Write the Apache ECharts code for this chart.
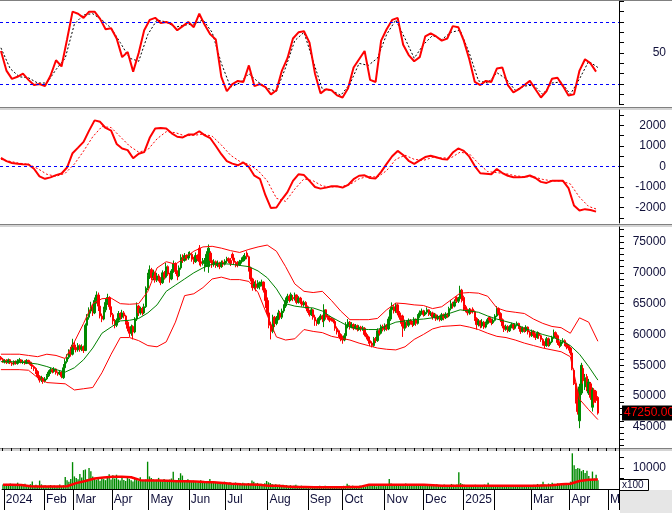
<!DOCTYPE html>
<html><head><meta charset="utf-8">
<script src="https://cdn.jsdelivr.net/npm/echarts@6/dist/echarts.min.js"></script>
<style>html,body{margin:0;padding:0;background:#fff}#c{width:672px;height:513px}</style>
</head><body><div id="c"></div>
<script>
// ---- x axis: trading days per month and their labels ----
const monthLabels = ['', '2024','Feb','Mar','Apr','May','Jun','Jul','Aug','Sep','Oct','Nov','Dec','2025','','Mar','Apr','M'];
const monthDays   = [1,22,16,21,20,22,20,23,22,19,23,21,22,17,20,21,21,6];

// ---- daily prices (thousand VND) ----
const open = [
56.3,56.0,55.5,55.8,55.4,55.9,55.4,55.2,55.6,55.3, 55.6,55.9,55.5,55.7,55.3,55.8,55.5,55.1,54.8,54.5,
54.0,53.2,52.6,52.9,52.4,52.8,53.3,53.9,54.3,54.0, 54.4,53.8,53.6,53.9,53.0,54.6,55.6,56.3,57.2,56.8,
58.3,57.9,57.5,58.2,57.6,58.0,57.4,61.5,62.8,63.8, 64.5,63.5,65.5,66.4,64.6,63.0,62.5,64.0,65.2,66.0,
64.5,63.2,62.2,61.5,62.3,63.4,62.8,63.5,63.0,62.0, 61.0,60.2,61.3,60.4,62.5,64.6,63.5,64.2,63.5,64.5,
67.5,69.5,70.5,69.2,70.0,68.8,69.5,69.0,68.4,70.0, 69.3,71.0,69.8,69.0,70.3,71.5,70.2,69.5,70.8,72.5,
72.0,72.8,72.4,72.9,73.0,72.2,71.8,72.8,74.0,71.8, 71.5,71.0,71.3,71.0,73.2,72.0,71.3,71.8,71.2,71.6,
71.0,71.7,71.4,71.9,72.3,72.0,73.0,72.4,71.7,71.6, 71.3,71.8,72.0,72.2,73.2,72.6,70.8,69.0,67.6,68.2,
67.6,67.8,68.0,68.5,67.2,65.5,63.5,61.5,60.5,62.8, 61.8,62.6,63.5,62.8,63.8,64.6,65.5,66.2,65.6,66.0,
65.8,66.4,65.2,65.9,65.3,64.8,65.2,64.5,63.8,63.2, 64.0,62.8,62.2,61.8,62.6,63.0,62.2,64.0,63.0,62.7,
62.6,62.4,62.1,61.0,60.6,60.0,59.6,59.1,59.8,61.4, 62.0,61.2,61.6,61.0,61.4,60.8,61.2,60.9,61.0,60.0,
59.6,59.0,58.6,58.2,59.3,59.0,60.6,60.2,61.3,60.8, 61.5,60.9,62.5,64.0,64.5,63.8,64.8,63.5,62.8,63.0,
61.0,62.0,61.5,62.3,62.0,61.6,62.5,61.8,63.0,63.5, 63.8,63.2,63.6,64.0,63.3,63.5,62.8,63.2,62.5,62.9,
62.4,63.2,62.7,63.3,63.0,64.2,65.0,64.6,66.0,65.4, 65.8,67.2,66.0,64.5,64.0,63.5,64.0,64.1,63.7,62.6,
61.6,62.2,61.4,62.0,61.2,61.8,62.8,62.3,61.9,62.3, 63.0,64.2,63.4,62.4,61.4,60.8,61.3,60.6,61.2,61.6,
61.0,61.5,61.8,61.2,60.5,61.0,60.6,61.2,60.4,59.8, 60.5,60.0,59.5,60.2,59.8,59.2,58.6,58.2,59.3,58.4,
58.8,59.5,60.3,59.8,58.7,58.2,58.8,59.0,58.5,58.2, 57.8,57.0,54.2,52.0,49.5,46.0,50.5,54.5,51.5,53.2,
50.5,52.0,48.2,51.0,50.8,49.8];
const close = [
56.0,55.6,55.8,55.5,55.9,55.4,55.2,55.6,55.3,55.7, 55.9,55.5,55.6,55.4,55.8,55.5,55.1,54.8,54.5,54.0,
53.2,52.6,52.9,52.4,52.8,53.3,53.9,54.3,54.0,54.4, 53.8,53.6,53.9,53.2,54.6,55.6,56.3,57.2,56.8,58.3,
57.9,57.5,58.2,57.6,58.0,57.4,61.5,62.8,63.8,64.5, 63.5,65.5,66.4,64.6,63.0,62.5,64.0,65.2,66.0,64.5,
63.2,62.2,61.5,62.3,63.4,62.8,63.5,63.0,62.0,61.0, 60.2,61.3,60.4,62.5,64.6,63.5,64.2,63.5,64.5,67.5,
69.5,70.5,69.2,70.0,68.8,69.5,69.0,68.4,70.0,69.3, 71.0,69.8,69.0,70.3,71.5,70.2,69.5,70.8,72.5,72.0,
72.8,72.4,72.9,73.0,72.2,71.8,72.8,72.3,71.8,71.5, 72.0,71.3,73.0,74.0,72.0,71.3,71.8,71.2,71.6,71.0,
71.7,71.4,71.9,72.3,72.0,71.5,72.4,71.7,71.2,71.3, 71.8,72.0,72.6,72.7,72.6,70.8,69.0,67.6,68.2,67.6,
68.4,68.0,68.5,67.2,65.5,63.5,61.5,60.5,62.8,61.8, 62.6,63.5,62.8,63.8,64.6,65.5,66.2,65.6,66.5,65.8,
66.4,65.2,65.9,65.3,64.8,65.2,64.5,63.8,63.2,64.0, 62.8,62.2,61.8,62.6,63.0,62.5,64.0,62.8,62.7,62.3,
62.4,62.1,61.0,60.4,60.0,59.3,59.1,59.8,61.6,62.0, 61.2,61.6,61.0,61.4,60.8,61.2,60.9,61.1,60.0,59.6,
59.0,58.6,58.2,59.3,59.0,60.6,60.2,61.3,60.8,61.5, 60.9,62.5,64.0,64.5,63.8,64.8,63.5,62.8,61.8,61.0,
62.0,61.5,62.3,62.0,61.6,62.5,61.8,63.0,63.5,63.8, 63.2,63.6,64.0,63.3,63.5,62.8,63.2,62.5,62.9,62.4,
63.2,62.7,63.3,63.0,64.2,65.0,64.6,65.3,65.4,65.8, 67.2,65.5,64.5,64.0,63.5,64.0,63.6,63.7,62.6,61.6,
62.2,61.4,62.0,61.2,61.8,62.4,62.3,61.9,62.3,63.0, 64.2,63.4,62.4,61.4,60.8,61.3,60.6,61.2,61.6,61.0,
61.5,61.8,61.2,60.5,61.0,60.6,61.2,60.4,59.8,60.5, 60.0,59.5,60.2,59.8,59.2,58.6,58.2,59.3,58.4,58.8,
59.5,60.3,59.8,58.7,58.2,58.8,59.0,58.5,58.0,57.8, 57.0,54.5,52.0,49.2,47.5,51.5,55.0,52.5,53.0,51.2,
52.3,49.8,51.0,49.0,49.3,47.25];
const low = [
55.8,55.4,55.3,55.2,55.3,55.2,54.9,55.0,55.1,55.1, 55.4,55.3,55.2,55.1,55.2,55.2,54.9,54.4,54.1,53.6,
52.9,52.2,52.3,52.0,52.2,52.6,53.1,53.6,53.7,53.8, 53.5,53.3,53.4,52.9,52.8,54.4,55.3,56.0,56.4,56.6,
57.5,57.1,57.2,57.2,57.3,57.0,57.3,61.0,62.4,63.4, 63.0,63.3,65.0,63.8,62.6,62.0,62.3,63.6,64.8,64.0,
62.8,61.6,61.0,61.2,62.0,62.4,62.5,62.6,61.6,60.5, 59.6,59.8,59.2,60.2,62.2,63.0,63.2,63.1,63.3,64.3,
67.2,69.0,68.8,68.8,68.4,68.5,68.6,68.0,68.2,68.9, 69.1,69.5,68.4,68.8,70.0,69.8,68.8,69.3,70.5,71.6,
71.8,72.0,72.1,72.5,71.8,71.4,71.6,71.9,71.2,71.0, 71.2,70.2,71.0,70.0,71.6,70.8,71.0,70.8,70.9,70.6,
70.8,71.0,71.2,71.6,71.6,71.1,72.0,71.3,70.9,70.9, 71.1,71.5,71.8,71.9,72.2,70.2,68.6,67.1,67.3,67.0,
67.4,67.3,67.8,66.8,64.3,63.0,61.0,59.2,60.2,61.2, 61.5,62.3,62.4,62.5,63.5,64.3,65.1,65.2,65.4,65.4,
65.5,64.9,65.0,64.9,64.5,64.5,64.2,63.5,62.9,63.0, 62.4,61.4,61.4,61.6,62.3,62.0,61.2,62.4,62.4,62.0,
62.1,61.8,60.6,60.0,59.6,58.9,58.5,58.9,59.6,61.0, 60.8,61.0,60.7,60.8,60.5,60.6,60.5,60.6,59.7,59.2,
58.5,58.1,57.9,58.0,58.6,58.8,59.8,60.0,60.5,60.5, 60.6,60.7,62.2,63.6,63.4,63.5,63.1,62.4,61.3,59.6,
60.6,61.1,61.2,61.6,61.2,61.4,61.4,61.6,62.7,63.2, 62.9,63.0,63.3,63.0,63.0,62.4,62.6,62.2,62.3,62.1,
62.2,62.3,62.5,62.7,62.8,63.9,64.2,64.4,65.1,65.1, 65.6,65.2,63.8,63.6,63.1,63.2,63.3,63.4,62.2,60.8,
61.3,61.0,61.1,60.9,61.0,61.6,61.9,61.5,61.7,62.1, 62.8,63.1,62.0,61.0,60.4,60.6,60.3,60.4,61.0,60.7,
60.8,61.3,60.9,60.1,60.3,60.3,60.4,60.0,59.5,59.6, 59.5,59.1,59.3,59.3,58.8,58.2,57.8,58.0,58.0,58.1,
58.6,59.3,59.4,58.3,57.8,58.0,58.5,58.1,57.6,57.4, 56.6,54.2,51.8,48.8,47.0,44.8,50.2,52.0,51.0,50.8,
50.2,49.4,47.5,48.6,48.9,47.0];
const high = [
56.5,56.2,56.0,56.0,56.1,56.0,55.6,55.8,55.8,56.0, 56.2,56.0,55.9,55.8,56.0,55.9,55.6,55.3,55.0,54.7,
54.2,53.4,53.3,53.1,53.1,53.6,54.2,54.6,54.5,54.7, 54.5,54.0,54.2,54.0,55.2,56.0,56.8,57.6,58.0,59.3,
58.8,58.2,58.6,58.4,58.4,58.2,61.8,63.3,64.4,65.3, 64.8,66.0,67.0,66.8,64.8,63.4,64.5,65.8,66.6,66.2,
64.8,63.5,62.5,62.6,63.8,63.6,64.0,63.8,63.2,62.2, 61.3,61.6,61.5,62.8,65.2,64.8,64.5,64.5,65.0,67.8,
70.0,71.2,70.8,70.5,70.2,70.0,69.8,69.3,70.4,70.3, 71.6,71.2,70.0,70.6,72.0,71.7,70.4,71.2,73.0,73.0,
73.2,73.0,73.4,73.5,73.2,72.6,73.3,73.0,74.5,72.2, 72.4,72.4,73.5,74.6,73.5,72.3,72.2,72.0,72.0,71.8,
72.0,72.0,72.2,72.6,72.5,72.4,73.3,72.6,71.9,71.9, 72.1,72.5,72.9,73.2,73.5,72.8,71.0,69.2,68.6,68.8,
68.8,68.6,68.9,68.6,67.5,66.0,63.8,62.0,63.2,63.0, 63.0,64.0,63.8,64.2,64.9,66.0,66.6,66.5,66.8,66.4,
66.8,66.5,66.2,66.1,65.6,65.5,65.4,64.7,64.0,64.3, 64.1,63.2,62.4,62.8,63.3,63.2,64.9,64.1,63.2,63.0,
62.8,62.6,62.3,61.3,60.8,60.2,59.8,60.2,62.0,62.5, 62.2,62.0,61.8,61.7,61.6,61.5,61.4,61.4,61.2,60.3,
59.8,59.3,58.9,59.6,59.6,61.0,60.9,61.6,61.6,61.8, 61.7,62.9,64.5,65.2,64.8,65.1,65.0,63.8,63.1,63.2,
62.4,62.3,62.6,62.5,62.2,62.8,62.6,63.3,63.9,64.2, 64.0,63.9,64.4,64.1,63.8,63.7,63.5,63.4,63.2,63.1,
63.5,63.4,63.6,63.5,64.5,65.6,65.3,65.7,66.2,66.1, 67.9,67.4,66.3,64.8,64.2,64.3,64.2,64.4,63.9,62.8,
62.5,62.3,62.5,62.2,62.1,62.7,63.0,62.6,62.6,63.3, 64.6,64.4,63.6,62.6,61.6,61.6,61.5,61.5,61.9,61.8,
61.8,62.1,61.9,61.4,61.3,61.2,61.5,61.3,60.6,60.8, 60.7,60.2,60.5,60.4,60.0,59.4,58.9,59.6,59.5,59.2,
59.8,60.8,60.5,60.0,58.9,59.1,59.4,59.2,58.7,58.4, 58.0,57.2,54.5,52.2,51.0,52.0,55.4,55.0,53.6,53.6,
52.8,52.3,51.4,51.3,51.0,50.0];

// ---- daily volume (x100 shares) ----
const volume = [
2100,1800,2400,1500,2600,1900,1700,2200,3000,1600,2000,1800,2500,1400,1900,2300,3600,1700,2000,1500,
4000,2200,1600,1800,1300,1500,1900,1400,1700,1200,1600,2100,1500,1800,5700,4200,3500,4800,12800,6000,
5200,4600,7200,5500,9000,9300,4800,10000,8500,6000,5200,4400,5600,3900,5500,4700,4200,6100,7000,4500,
6500,5000,6800,4500,4000,5200,4300,3800,5700,4800,4200,3600,5100,4400,3900,5600,4100,3800,4500,13000,
6000,5200,4600,3900,4400,5300,4100,3700,4800,4200,3600,4500,5000,8200,4300,4000,5200,7500,6400,4200,
3900,4600,3500,3300,4000,3700,3100,3500,4200,3400,3800,3000,3600,4800,3200,2900,3400,3100,2800,3300,
2700,3500,3000,2600,3200,2400,2900,3100,2500,2700,2300,3000,2600,2200,2800,2400,4000,3500,2600,2900,2100,2500,2300,2700,3800,
3200,2800,2400,2000,2300,1800,2100,1700,2000,1600,1900,1500,1800,1400,1700,2000,1500,1300,1600,1200,1400,1100,1300,1000,1200,
1400,1100,1300,1600,1000,1200,1500,1100,1300,900,1200,1000,1400,1100,1300,1000,1500,1200,2500,1800,1300,1600,1100,1400,1200,1700,1300,1500,1100,1600,
1800,1400,2000,1600,1300,1900,1500,1700,2200,1800,1400,4800,2600,2100,1900,2300,1600,2000,2400,1800,2600,2100,1700,2300,1900,1500,2000,1800,2200,1600,
1800,2200,1500,2000,1700,1400,1900,2300,1600,1800,1500,2100,1700,1400,1900,2400,2000,1800,2200,8000,2800,2300,2000,1700,1900,1500,1800,1600,2000,1700,
1400,1800,1600,2100,1500,3000,1700,1400,1900,1600,1800,1300,1500,1700,1400,1900,1600,1200,1500,1800,1400,1700,1600,1300,1500,1900,1400,1800,1600,1700,
2000,1700,2400,1900,2200,3500,2100,1800,2600,2300,3000,2500,2000,2700,2200,1900,2500,2300,2800,2600,
3500,17000,11300,9500,10000,9700,8500,9000,7600,8700,6200,4500,8300,5000,6800,4200];

// ---- indicator readings, one value every 5 trading days ----
const SMOOTH_STEP = 5;
const bbUpper = [56.8,56.8,56.8,56.6,56.4,56.8,56.6,56.1,58.8,61.8,65.0,65.8,65.9,65.0,64.9,65.0,67.0,70.8,71.8,71.4,72.4,73.5,74.2,74.3,74.0,73.6,73.3,73.8,74.2,74.5,73.5,71.0,68.2,67.0,66.8,67.0,65.5,63.8,62.4,62.4,62.4,62.6,64.0,65.1,65.0,64.8,64.7,64.2,64.5,65.6,66.7,66.8,66.7,66.2,64.3,63.8,63.6,63.4,62.5,61.8,61.3,61.1,60.2,62.7,62.0,58.9];
const bbMid   = [55.6,55.6,55.5,55.4,55.2,54.8,54.3,53.9,54.6,55.9,57.8,60.2,61.2,62.2,62.3,62.6,63.5,64.8,67.0,68.0,69.0,70.0,70.8,71.4,71.5,71.4,71.2,71.0,70.3,69.2,67.4,65.0,64.6,64.4,64.3,63.8,62.8,62.0,61.2,60.9,60.8,60.8,61.4,62.0,62.2,62.4,62.5,62.7,63.0,63.5,64.0,63.8,63.6,63.0,62.5,62.1,61.7,61.0,60.5,60.0,59.6,59.0,58.2,56.8,54.8,52.6];
const bbLower = [54.3,54.3,54.3,54.2,53.0,52.2,52.1,52.0,51.0,51.2,51.4,53.8,56.8,59.5,59.5,59.0,58.2,58.0,58.8,62.0,66.3,66.6,67.6,69.0,69.3,68.9,68.9,68.6,66.8,63.1,59.6,59.1,59.3,60.8,60.5,60.3,59.7,59.4,59.1,58.6,58.2,57.8,57.6,57.5,58.0,59.2,60.0,60.9,61.3,61.4,61.5,61.2,60.8,60.2,59.7,59.5,59.1,58.6,58.2,57.8,57.5,57.2,56.4,49.5,47.8,46.2];
const macdSignal = [350,250,160,110,-100,-380,-480,-330,120,750,1450,1950,1900,1450,1000,700,820,1350,1700,1650,1500,1520,1580,1480,1050,550,250,100,-200,-700,-1550,-1700,-1100,-600,-700,-950,-1000,-980,-880,-600,-480,-520,-200,350,550,350,300,440,420,420,700,620,150,-250,-300,-350,-450,-500,-500,-630,-700,-710,-850,-1500,-1950,-2100];
const oscSignal = [55,35,27,26,21,21,34,45,78,87,88,82,74,60,45,42,68,82,80,75,77,78,82,70,40,17,21,30,22,16,13,36,62,70,42,15,14,9,20,40,38,45,68,82,64,45,58,67,63,70,72,50,23,21,31,25,14,18,19,10,21,22,10,25,42,36];
const volMA = [2000,2000,1900,1300,1200,1200,1200,1300,2800,3800,5000,5500,5800,5800,5600,4200,4000,4000,3900,3700,3700,3600,3300,3200,2900,2500,2300,2200,2000,1600,1500,1200,1000,900,800,800,800,800,900,1000,2000,2000,2000,2000,2000,2000,2000,1800,1500,1500,1500,1500,1500,1500,1500,1500,1500,1500,1600,1700,1800,2300,2500,3800,4400,4500];

// ---- faster lines, one value every 3 trading days ----
const FAST_STEP = 3;
const macdLine = [420,260,170,130,110,100,-110,-480,-600,-530,-420,-340,-50,650,920,1200,1750,2250,2180,1880,1750,1100,880,800,400,620,700,1400,1850,1880,1850,1620,1450,1420,1560,1560,1720,1520,1380,1000,600,260,140,60,200,-20,-450,-600,-1400,-2030,-2000,-1600,-1250,-700,-380,-420,-700,-1000,-1080,-1030,-960,-960,-1030,-900,-620,-450,-430,-560,-580,-260,130,500,760,560,280,130,300,460,520,450,370,340,680,880,760,480,20,-330,-350,-380,-120,-320,-450,-520,-520,-510,-440,-560,-750,-800,-700,-690,-700,-1050,-1900,-2150,-2080,-2120,-2200];
const oscLine = [52,33,25,27,30,24,19,20,18,28,43,37,63,90,88,84,90,90,83,73,74,64,46,51,32,50,72,82,84,79,80,78,72,76,80,75,88,77,68,63,27,13,20,23,22,38,18,20,17,10,14,33,45,64,70,71,60,30,11,15,14,9,7,16,36,44,52,24,22,62,73,82,84,58,48,42,46,66,69,66,62,64,76,75,62,44,22,19,23,22,35,36,19,12,15,19,23,15,7,13,25,26,18,9,10,33,44,40,32];

// ---- axis tick labels ----
const oscLabels = [50];
const oscTicks = [0,10,20,30,40,50,60,70,80,90,100];
const oscLevels = [80, 20];
const macdLabels = [-2000,-1000,0,1000,2000];
const macdTicks = [-2500,-2000,-1500,-1000,-500,0,500,1000,1500,2000,2500];
const priceLabels = [45,50,55,60,65,70,75];
const priceTicks = [42,43,44,45,46,47,48,49,50,51,52,53,54,55,56,57,58,59,60,61,62,63,64,65,66,67,68,69,70,71,72,73,74,75,76,77];
const volLabels = [10000];
const volTicks = [5000,10000,15000];
const lastPrice = close[close.length-1];

// ---- build categories ----
const cats = [], monthStart = {};
monthDays.forEach((n, m) => { for (let d = 0; d < n; d++) { if (d === 0) monthStart[cats.length] = monthLabels[m]; cats.push('m' + m + 'd' + d); } });
const pts = (arr, step) => arr.map((v, k) => [k * step, v]);

const TXT = '#10103a';
const FONT = 'Liberation Sans';
function yAx(grid, min, max, labels, ticks, fmt) {
  return { type:'value', gridIndex:grid, position:'right', min, max,
    splitLine:{show:false},
    axisLine:{show:true, lineStyle:{color:'#000', width:1}},
    axisTick:{show:true, inside:false, length:5, customValues:ticks, lineStyle:{color:'#000'}},
    axisLabel:{customValues:labels, formatter:fmt, color:TXT, fontSize:12, fontFamily:FONT, margin:47, align:'right'} };
}
const xBase = { type:'category', data:cats, boundaryGap:true, axisLine:{show:false}, axisTick:{show:false}, axisLabel:{show:false}, splitLine:{show:false} };

const chart = echarts.init(document.getElementById('c'), null, {renderer:'canvas'});
const grids = [
  {left:0, width:619, top:1.3, height:103.4},
  {left:0, width:619, top:110, height:113},
  {left:0, width:619, top:227, height:221},
  {left:0, width:619, top:451, height:38}
];
const sep = y => [
  {type:'rect', shape:{x:0, y:y, width:672, height:1}, style:{fill:'#808080'}, silent:true},
  {type:'rect', shape:{x:0, y:y+1, width:672, height:2}, style:{fill:'#d4d4d4'}, silent:true}
];
chart.setOption({
  animation:false,
  backgroundColor:'#fff',
  grid: grids,
  xAxis: [
    Object.assign({}, xBase, {gridIndex:0}),
    Object.assign({}, xBase, {gridIndex:1}),
    Object.assign({}, xBase, {gridIndex:2}),
    Object.assign({}, xBase, {gridIndex:3,
      axisLine:{show:true, lineStyle:{color:'#000', width:1}},
      axisTick:{show:true, inside:false, length:21, interval:(i)=> monthStart[i] !== undefined && i > 0, lineStyle:{color:'#000'}},
      axisLabel:{show:true, interval:(i)=> monthStart[i] !== undefined, formatter:(v, i)=> monthStart[i] || '',
        align:'left', margin:5, color:TXT, fontSize:12, fontFamily:FONT, padding:[0,0,0,1]}}),
    Object.assign({}, xBase, {gridIndex:3,
      axisTick:{show:true, inside:false, length:3, interval:4, lineStyle:{color:'#000'}}})
  ],
  yAxis: [
    yAx(0, 0, 100, oscLabels, oscTicks, v => String(v)),
    yAx(1, -2756, 2756, macdLabels, macdTicks, v => String(v)),
    yAx(2, 41.59, 77.43, priceLabels, priceTicks, v => String(Math.round(v*1000))),
    yAx(3, 0, 18100, volLabels, volTicks, v => String(v))
  ],
  series: [
    {type:'line', xAxisIndex:0, yAxisIndex:0, data:pts(oscSignal, SMOOTH_STEP), symbol:'none',
      lineStyle:{color:'#000', width:1, type:[2,2]}, z:2},
    {type:'line', xAxisIndex:0, yAxisIndex:0, data:pts(oscLine, FAST_STEP), symbol:'none',
      lineStyle:{color:'#ff0000', width:2}, z:3,
      markLine:{silent:true, symbol:'none', label:{show:false}, lineStyle:{color:'#0000ff', width:1, type:[3,3]},
        data: oscLevels.map(v => ({yAxis:v}))}},
    {type:'line', xAxisIndex:1, yAxisIndex:1, data:pts(macdSignal, SMOOTH_STEP), symbol:'none',
      lineStyle:{color:'#ff0000', width:1, type:[2,2]}, z:2},
    {type:'line', xAxisIndex:1, yAxisIndex:1, data:pts(macdLine, FAST_STEP), symbol:'none',
      lineStyle:{color:'#ff0000', width:2}, z:3,
      markLine:{silent:true, symbol:'none', label:{show:false}, lineStyle:{color:'#0000ff', width:1, type:[3,3]},
        data:[{yAxis:0}]}},
    {type:'line', xAxisIndex:2, yAxisIndex:2, data:pts(bbUpper, SMOOTH_STEP), symbol:'none', lineStyle:{color:'#ff0000', width:1}},
    {type:'line', xAxisIndex:2, yAxisIndex:2, data:pts(bbLower, SMOOTH_STEP), symbol:'none', lineStyle:{color:'#ff0000', width:1}},
    {type:'line', xAxisIndex:2, yAxisIndex:2, data:pts(bbMid, SMOOTH_STEP), symbol:'none', lineStyle:{color:'#008000', width:1}},
    {type:'candlestick', xAxisIndex:2, yAxisIndex:2, barWidth:2,
      data: close.map((c, i) => [open[i], c, low[i], high[i]]),
      itemStyle:{color:'#008a00', color0:'#ff0000', borderColor:'#008a00', borderColor0:'#ff0000', borderWidth:1},
      markLine:{silent:true, symbol:'none', animation:false,
        lineStyle:{color:'rgba(0,0,0,0)', width:1, type:'solid'},
        label:{show:true, position:'end', distance:3, formatter:(lastPrice*1000).toFixed(2), color:'#ff0000',
          backgroundColor:'#000', padding:[2,2,1,2], fontSize:12, fontFamily:FONT},
        emphasis:{disabled:true},
        data:[{yAxis:lastPrice}]}},
    {type:'bar', xAxisIndex:3, yAxisIndex:3, data:volume, barCategoryGap:'25%', itemStyle:{color:'#008a00'}},
    {type:'line', xAxisIndex:3, yAxisIndex:3, data:pts(volMA, SMOOTH_STEP), symbol:'none', lineStyle:{color:'#ff0000', width:2.5}, z:3}
  ],
  graphic: [].concat(
    [{type:'rect', shape:{x:0, y:0, width:672, height:1}, style:{fill:'#808080'}, silent:true}],
    sep(107), sep(224), sep(448),
    [{type:'rect', shape:{x:620, y:490, width:52, height:23}, style:{fill:'#e6e6e6'}, silent:true},
     {type:'rect', shape:{x:619.5, y:479.5, width:29, height:11}, style:{fill:'#fff', stroke:'#000', lineWidth:1}, silent:true},
     {type:'text', x:622, y:480, style:{text:'x100', fontSize:10, fontFamily:FONT, fill:TXT}, silent:true}]
  )
});
</script></body></html>
